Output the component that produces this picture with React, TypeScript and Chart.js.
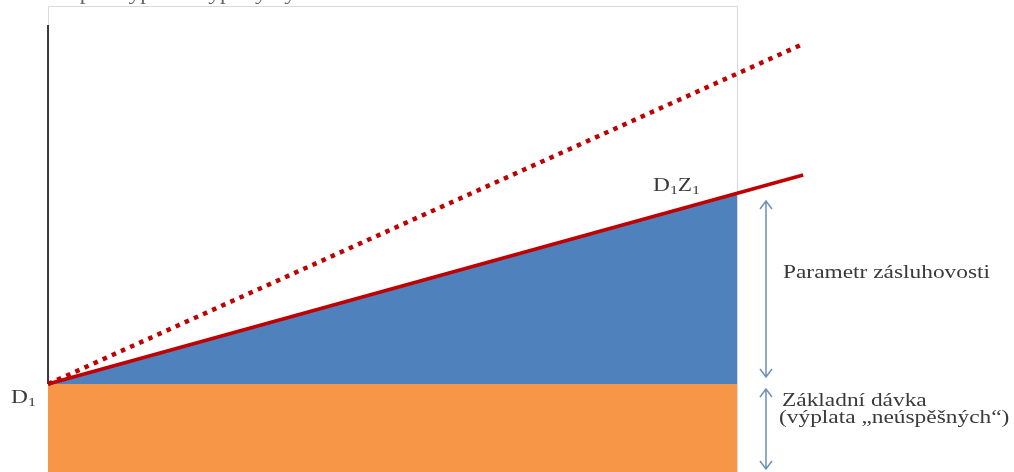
import React, { useEffect, useRef } from "react";
import { Chart, registerables } from "chart.js";

Chart.register(...registerables);

// Data (arbitrary units: base benefit = 1, fill ends at x = 1)
const fillX = [0, 1];
const baseLevel = [1, 1];
const meritLevel = [1, 3.167];
const lineX = [0, 1.096];
const solidLine = [1, 3.375];
const dottedLine = [1, 4.864];
const axisTop = 5.08;
const boxTop = 5.29;

const labelD1 = "D";
const labelD1Z1 = ["D", "Z"];
const labelMerit = "Parametr zásluhovosti";
const labelBase1 = "Základní dávka";
const labelBase2 = "(výplata „neúspěšných“)";
const captionText = "Schéma pro výpočet výplaty výherců";

const X_MIN = -0.0697;
const X_MAX = 1.402;
const Y_MIN = 0;
const Y_MAX = 5.3636;

const pts = (xs: number[], ys: number[]) => xs.map((x, i) => ({ x, y: ys[i] }));

const decorPlugin = {
  id: "decor",
  beforeDatasetsDraw(chart: any) {
    const { ctx, scales } = chart;
    const xs = scales.x;
    const ys = scales.y;
    ctx.save();
    // light frame
    ctx.strokeStyle = "#d9d9d9";
    ctx.lineWidth = 1;
    ctx.beginPath();
    const x0 = Math.round(xs.getPixelForValue(0)) + 0.5;
    const x1 = Math.round(xs.getPixelForValue(1)) + 0.5;
    const yt = Math.round(ys.getPixelForValue(boxTop)) + 0.5;
    const yb = ys.getPixelForValue(0);
    ctx.moveTo(x0, yb);
    ctx.lineTo(x0, yt);
    ctx.lineTo(x1, yt);
    ctx.lineTo(x1, yb);
    ctx.stroke();
    // vertical axis
    ctx.strokeStyle = "#3a3a3a";
    ctx.lineWidth = 2;
    ctx.beginPath();
    ctx.moveTo(xs.getPixelForValue(0), ys.getPixelForValue(axisTop));
    ctx.lineTo(xs.getPixelForValue(0), ys.getPixelForValue(1));
    ctx.stroke();
    ctx.restore();
  },
  afterDraw(chart: any) {
    const { ctx } = chart;
    const drawArrow = (x: number, yA: number, yB: number) => {
      ctx.save();
      ctx.strokeStyle = "#6f8fb8";
      ctx.lineWidth = 1.5;
      ctx.beginPath();
      ctx.moveTo(x, yA);
      ctx.lineTo(x, yB);
      ctx.moveTo(x - 6, yA + 8);
      ctx.lineTo(x, yA);
      ctx.lineTo(x + 6, yA + 8);
      ctx.moveTo(x - 6, yB - 8);
      ctx.lineTo(x, yB);
      ctx.lineTo(x + 6, yB - 8);
      ctx.stroke();
      ctx.restore();
    };
    drawArrow(766, 201, 377);
    drawArrow(766, 389, 469);
  },
};

const textStyle: React.CSSProperties = {
  position: "absolute",
  fontFamily: '"Liberation Serif", "DejaVu Serif", serif',
  fontSize: 19,
  lineHeight: 1,
  color: "#3a3a3a",
  whiteSpace: "nowrap",
  transformOrigin: "left top",
  transform: "scaleX(1.23)",
};

const subStyle: React.CSSProperties = {
  fontSize: "0.68em",
  verticalAlign: "-0.25em",
};

export default function App() {
  const ref = useRef<HTMLCanvasElement>(null);
  useEffect(() => {
    if (!ref.current) return;
    const chart = new Chart(ref.current, {
      type: "line",
      data: {
        datasets: [
          {
            label: "Základní dávka",
            data: pts(fillX, baseLevel),
            borderWidth: 0,
            pointRadius: 0,
            backgroundColor: "#f79646",
            borderColor: "#f79646",
            fill: "origin",
            order: 3,
          },
          {
            label: "Parametr zásluhovosti",
            data: pts(fillX, meritLevel),
            borderWidth: 0,
            pointRadius: 0,
            backgroundColor: "#4f81bd",
            borderColor: "#4f81bd",
            fill: "-1",
            order: 2,
          },
          {
            label: "dotted",
            data: pts(lineX, dottedLine),
            borderWidth: 4.5,
            borderColor: "#c00000",
            borderDash: [4.5, 5.5],
            pointRadius: 0,
            fill: false,
            order: 1,
          },
          {
            label: "solid",
            data: pts(lineX, solidLine),
            borderWidth: 3.5,
            borderColor: "#c00000",
            pointRadius: 0,
            fill: false,
            order: 0,
          },
        ],
      },
      options: {
        animation: false,
        responsive: false,
        layout: { padding: 0 },
        plugins: { legend: { display: false }, tooltip: { enabled: false } },
        scales: {
          x: { type: "linear", min: X_MIN, max: X_MAX, display: false },
          y: { type: "linear", min: Y_MIN, max: Y_MAX, display: false },
        },
      },
      plugins: [decorPlugin],
    });
    return () => chart.destroy();
  }, []);

  return (
    <div
      style={{
        position: "fixed",
        left: 0,
        top: 0,
        width: 1014,
        height: 472,
        overflow: "hidden",
        background: "#fff",
      }}
    >
      <canvas ref={ref} width={1014} height={472} style={{ position: "absolute", left: 0, top: 0 }} />
      <div style={{ ...textStyle, left: 0, top: -16, color: "#666" }}>{captionText}</div>
      <div style={{ ...textStyle, left: 11, top: 387 }}>
        {labelD1}
        <span style={subStyle}>1</span>
      </div>
      <div style={{ ...textStyle, left: 653, top: 175 }}>
        {labelD1Z1[0]}
        <span style={subStyle}>1</span>
        {labelD1Z1[1]}
        <span style={subStyle}>1</span>
      </div>
      <div style={{ ...textStyle, left: 783, top: 262 }}>{labelMerit}</div>
      <div style={{ ...textStyle, left: 782, top: 390 }}>{labelBase1}</div>
      <div style={{ ...textStyle, left: 779, top: 407 }}>{labelBase2}</div>
    </div>
  );
}
